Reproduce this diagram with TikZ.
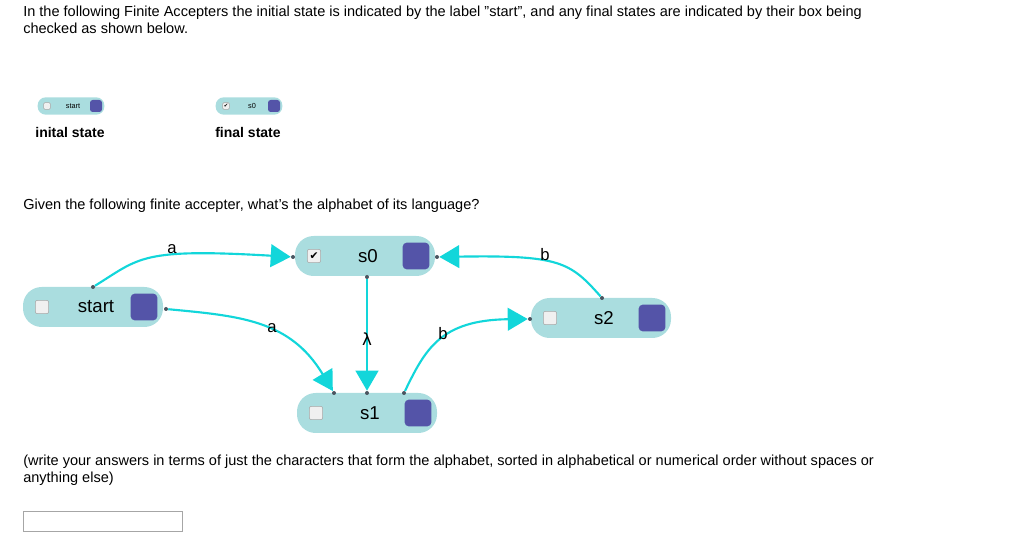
\documentclass[tikz,border=0pt]{standalone}
\usepackage{fontspec}
\setmainfont{Liberation Sans}
\newfontfamily\djv{DejaVu Sans}
\usetikzlibrary{arrows.meta}
\definecolor{pill}{HTML}{AADDDF}
\definecolor{edge}{HTML}{12D6DA}
\definecolor{blk}{HTML}{5454A8}
\definecolor{dotc}{HTML}{4A5560}
\begin{document}
\begin{tikzpicture}[x=0.75pt,y=-0.75pt,
  pillbox/.style={fill=pill,rounded corners=14pt,minimum width=105pt,minimum height=30pt,inner sep=0pt},
  smallpill/.style={fill=pill,rounded corners=6pt,minimum width=50pt,minimum height=13pt,inner sep=0pt},
  chk/.style={draw=gray!70,fill=gray!12,rounded corners=1.5pt,minimum size=10pt,inner sep=0pt},
  blksq/.style={fill=blk,rounded corners=3pt,minimum size=20pt,inner sep=0pt},
  dotn/.style={circle,fill=dotc,inner sep=0pt,minimum size=3pt},
  conn/.style={draw=edge,line width=1.6pt,-{Triangle[length=15pt,width=17pt]}},
  lab/.style={font=\fontsize{12.5}{14}\selectfont,inner sep=0pt},
  body/.style={font=\fontsize{10.9}{12.5}\selectfont,anchor=north west,align=left,inner sep=0pt}]
\useasboundingbox (0,0) rectangle (1024,555);
% texts
\node[body] (t1) at (23,6) {In the following Finite Accepters the initial state is indicated by the label "start", and any final states are indicated by their box being\\checked as shown below.};
\node[body] (t2) at (23,199) {Given the following finite accepter, what's the alphabet of its language?};
\node[body] (t3) at (23,455) {(write your answers in terms of just the characters that form the alphabet, sorted in alphabetical or numerical order without spaces or\\anything else)};
\node[draw=gray!70,minimum width=119pt,minimum height=15pt,inner sep=0pt] (box) at (102.5,521) {};
% legend
\node[smallpill] (ls) at (71,106) {};
\node[chk,minimum size=5pt,rounded corners=0.8pt] (lsc) at (47,106) {};
\node[font=\fontsize{5.5}{6}\selectfont] (lst) at (73,106) {start};
\node[blksq,minimum size=9pt,rounded corners=2pt] (lsb) at (96,106) {};
\node[smallpill] (lf) at (249,106) {};
\node[chk,minimum size=5pt,rounded corners=0.8pt] (lfc) at (226,106) {};
\node[font=\fontsize{4}{5}\selectfont] (lfck) at (226,106) {\djv\char"2714};
\node[font=\fontsize{5.5}{6}\selectfont] (lft) at (252,106) {s0};
\node[blksq,minimum size=9pt,rounded corners=2pt] (lfb) at (274,106) {};
\node[font=\bfseries\fontsize{10.5}{12}\selectfont] (l1) at (70,133) {inital state};
\node[font=\bfseries\fontsize{10.5}{12}\selectfont] (l2) at (248,133) {final state};
% states
\foreach \n/\x/\y/\t in {st/93/307/start, s0/365/256/s0, s1/367/413/s1, s2/601/318/s2}{
  \node[pillbox] (\n) at (\x,\y) {};
  \node[chk] (\n c) at (\x-51,\y) {};
  \node[font=\fontsize{14}{16}\selectfont] (\n t) at (\x+3,\y) {\t};
  \node[blksq] (\n b) at (\x+51,\y) {};
}
\node[font=\fontsize{8}{9}\selectfont] (ck) at (314,256) {\djv\char"2714};
% dots
\node[dotn] (d1) at (93,287) {};
\node[dotn] (d2) at (166,309) {};
\node[dotn] (d3) at (293,257) {};
\node[dotn] (d4) at (437,257) {};
\node[dotn] (d5) at (367,277) {};
\node[dotn] (d6) at (334,393) {};
\node[dotn] (d7) at (367,393) {};
\node[dotn] (d8) at (404,393) {};
\node[dotn] (d9) at (530,319) {};
\node[dotn] (d10) at (602,298) {};
% edges
\draw[conn] (d1) .. controls (140,258) and (140,248) .. (d3);
\draw[conn] (d2) .. controls (240,316) and (290,320) .. (d6);
\draw[conn] (d5) -- (d7);
\draw[conn] (d8) .. controls (425,350) and (440,320) .. (d9);
\draw[conn] (d10) .. controls (570,262) and (560,255) .. (d4);
\node[lab] (la1) at (172,249) {a};
\node[lab] (la2) at (272,328) {a};
\node[lab] (lam) at (367,339) {\djv λ};
\node[lab] (lb1) at (443,334) {b};
\node[lab] (lb2) at (545,255) {b};
\end{tikzpicture}
\end{document}
